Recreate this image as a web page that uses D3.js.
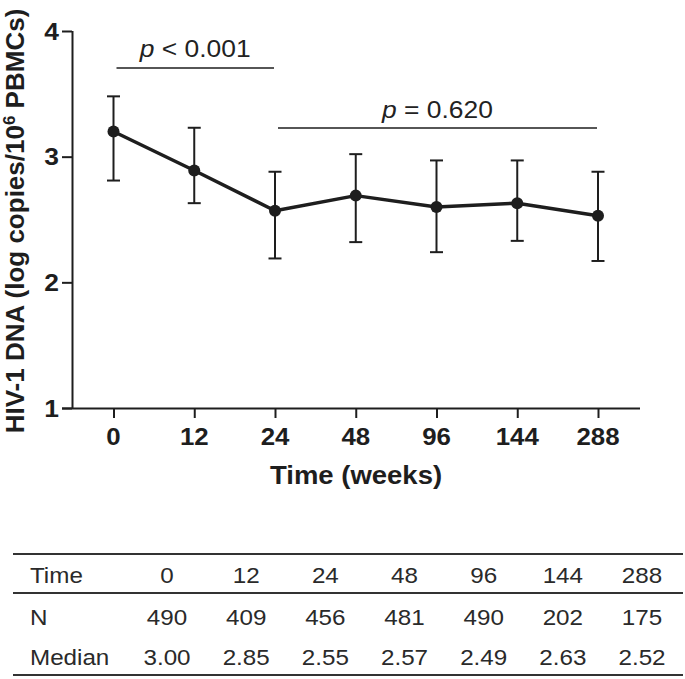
<!DOCTYPE html>
<html><head><meta charset="utf-8">
<script src="https://cdn.jsdelivr.net/npm/d3@7"></script>
<style>body{margin:0;background:#fff;} svg{display:block;}</style>
</head><body>
<svg id="chart" width="685" height="679"></svg>
<script>
const weeks = ["0","12","24","48","96","144","288"];
const meanVal = [3.20, 2.89, 2.57, 2.69, 2.60, 2.63, 2.53];
const errHigh = [3.48, 3.23, 2.88, 3.02, 2.97, 2.97, 2.88];
const errLow  = [2.81, 2.63, 2.19, 2.32, 2.24, 2.33, 2.17];
const yTicks = [1, 2, 3, 4];
const pTests = [
  {from:"0", to:"24", label:"< 0.001", level:0},
  {from:"24", to:"288", label:"= 0.620", level:1}
];
const tableRowLabels = ["Time","N","Median"];
const tableN = ["490","409","456","481","490","202","175"];
const tableMedian = ["3.00","2.85","2.55","2.57","2.49","2.63","2.52"];

const svg = d3.select("#chart");
const font = "'Liberation Sans', Arial, sans-serif";
const ink = "#1e1e1e";
const SX = 1.1;

const x = d3.scalePoint().domain(weeks).range([113.5, 598]);
const y = d3.scaleLinear().domain([1, 4]).range([408, 31]);
const axisLeftX = 72, axisBottomY = 408;

function stext(g, tx, ty, str, opts) {
  const t = g.append("text")
    .attr("transform", `translate(${tx},${ty}) scale(${SX},1)`)
    .attr("font-family", font)
    .attr("font-size", opts.size)
    .attr("font-weight", opts.weight || "normal")
    .attr("fill", opts.fill || ink)
    .attr("text-anchor", opts.anchor || "middle");
  if (opts.html) t.html(str); else t.text(str);
  return t;
}

// Y axis
const yAxis = svg.append("g").attr("transform", `translate(${axisLeftX},0)`)
  .call(d3.axisLeft(y).tickValues(yTicks).tickSize(10).tickSizeOuter(0).tickFormat(d3.format("d")));
yAxis.select(".domain").attr("stroke", ink).attr("stroke-width", 2).attr("d", `M0.5,${y(4)}V${y(1)}`);
yAxis.selectAll(".tick line").attr("stroke", ink).attr("stroke-width", 2);
yAxis.selectAll(".tick text").remove();
yTicks.forEach(v => stext(svg, 59, y(v) + 8.5, String(v), {size: 24, weight: "bold", anchor: "end"}));

// X axis
const xAxis = svg.append("g").attr("transform", `translate(0,${axisBottomY})`)
  .call(d3.axisBottom(x).tickSize(10).tickSizeOuter(0));
xAxis.select(".domain").attr("stroke", ink).attr("stroke-width", 2).attr("d", `M62,0.5H640`);
xAxis.selectAll(".tick line").attr("stroke", ink).attr("stroke-width", 2);
xAxis.selectAll(".tick text").remove();
weeks.forEach(w => stext(svg, x(w), 445, w, {size: 23.5, weight: "bold"}));

// Axis titles
stext(svg, 356, 484, "Time (weeks)", {size: 25, weight: "bold"});
svg.append("text")
  .attr("transform", `translate(24,221) rotate(-90)`)
  .attr("font-family", font).attr("font-size", 26).attr("font-weight", "bold")
  .attr("fill", ink).attr("text-anchor", "middle")
  .html('HIV-1 DNA (log copies/10<tspan dy="-9" font-size="17">6</tspan><tspan dy="9"> PBMCs)</tspan>');

// Error bars
const capHalf = 6.5;
const eg = svg.append("g").attr("stroke", ink).attr("stroke-width", 2).attr("fill", "none");
weeks.forEach((w, i) => {
  const cx = x(w);
  eg.append("line").attr("x1", cx).attr("x2", cx).attr("y1", y(errHigh[i])).attr("y2", y(errLow[i]));
  eg.append("line").attr("x1", cx - capHalf).attr("x2", cx + capHalf).attr("y1", y(errHigh[i])).attr("y2", y(errHigh[i]));
  eg.append("line").attr("x1", cx - capHalf).attr("x2", cx + capHalf).attr("y1", y(errLow[i])).attr("y2", y(errLow[i]));
});

// Line and points
const line = d3.line().x((d, i) => x(weeks[i])).y(d => y(d));
svg.append("path").datum(meanVal).attr("d", line)
  .attr("fill", "none").attr("stroke", ink).attr("stroke-width", 3.5).attr("stroke-linejoin", "round");
svg.append("g").selectAll("circle").data(meanVal).join("circle")
  .attr("cx", (d, i) => x(weeks[i])).attr("cy", d => y(d)).attr("r", 6).attr("fill", ink);

// p-value brackets
const barY = [68, 128];
const textY = [56.5, 118];
pTests.forEach(p => {
  const x1 = x(p.from) + 3, x2 = x(p.to) - 1;
  svg.append("line").attr("x1", x1).attr("x2", x2).attr("y1", barY[p.level]).attr("y2", barY[p.level])
    .attr("stroke", ink).attr("stroke-width", 1.5);
  stext(svg, (x1 + x2) / 2, textY[p.level],
    `<tspan font-style="italic">p</tspan> ${p.label.replace("<", "&lt;")}`, {size: 24, html: true, fill: "#222"});
});

// Table
const tx = d3.scalePoint().domain(weeks).range([167, 642]);
const rowY = [583, 625, 665];
const lineYs = [554, 593, 675];
const tcol = "#2a2a2a";
lineYs.forEach(ly => svg.append("line").attr("x1", 13).attr("x2", 683).attr("y1", ly).attr("y2", ly)
  .attr("stroke", "#333").attr("stroke-width", 2));
tableRowLabels.forEach((lab, r) => stext(svg, 30, rowY[r], lab, {size: 22, anchor: "start", fill: tcol}));
const rows = [weeks, tableN, tableMedian];
rows.forEach((vals, r) => vals.forEach((v, i) => stext(svg, tx(weeks[i]), rowY[r], v, {size: 22, fill: tcol})));
</script>
</body></html>
